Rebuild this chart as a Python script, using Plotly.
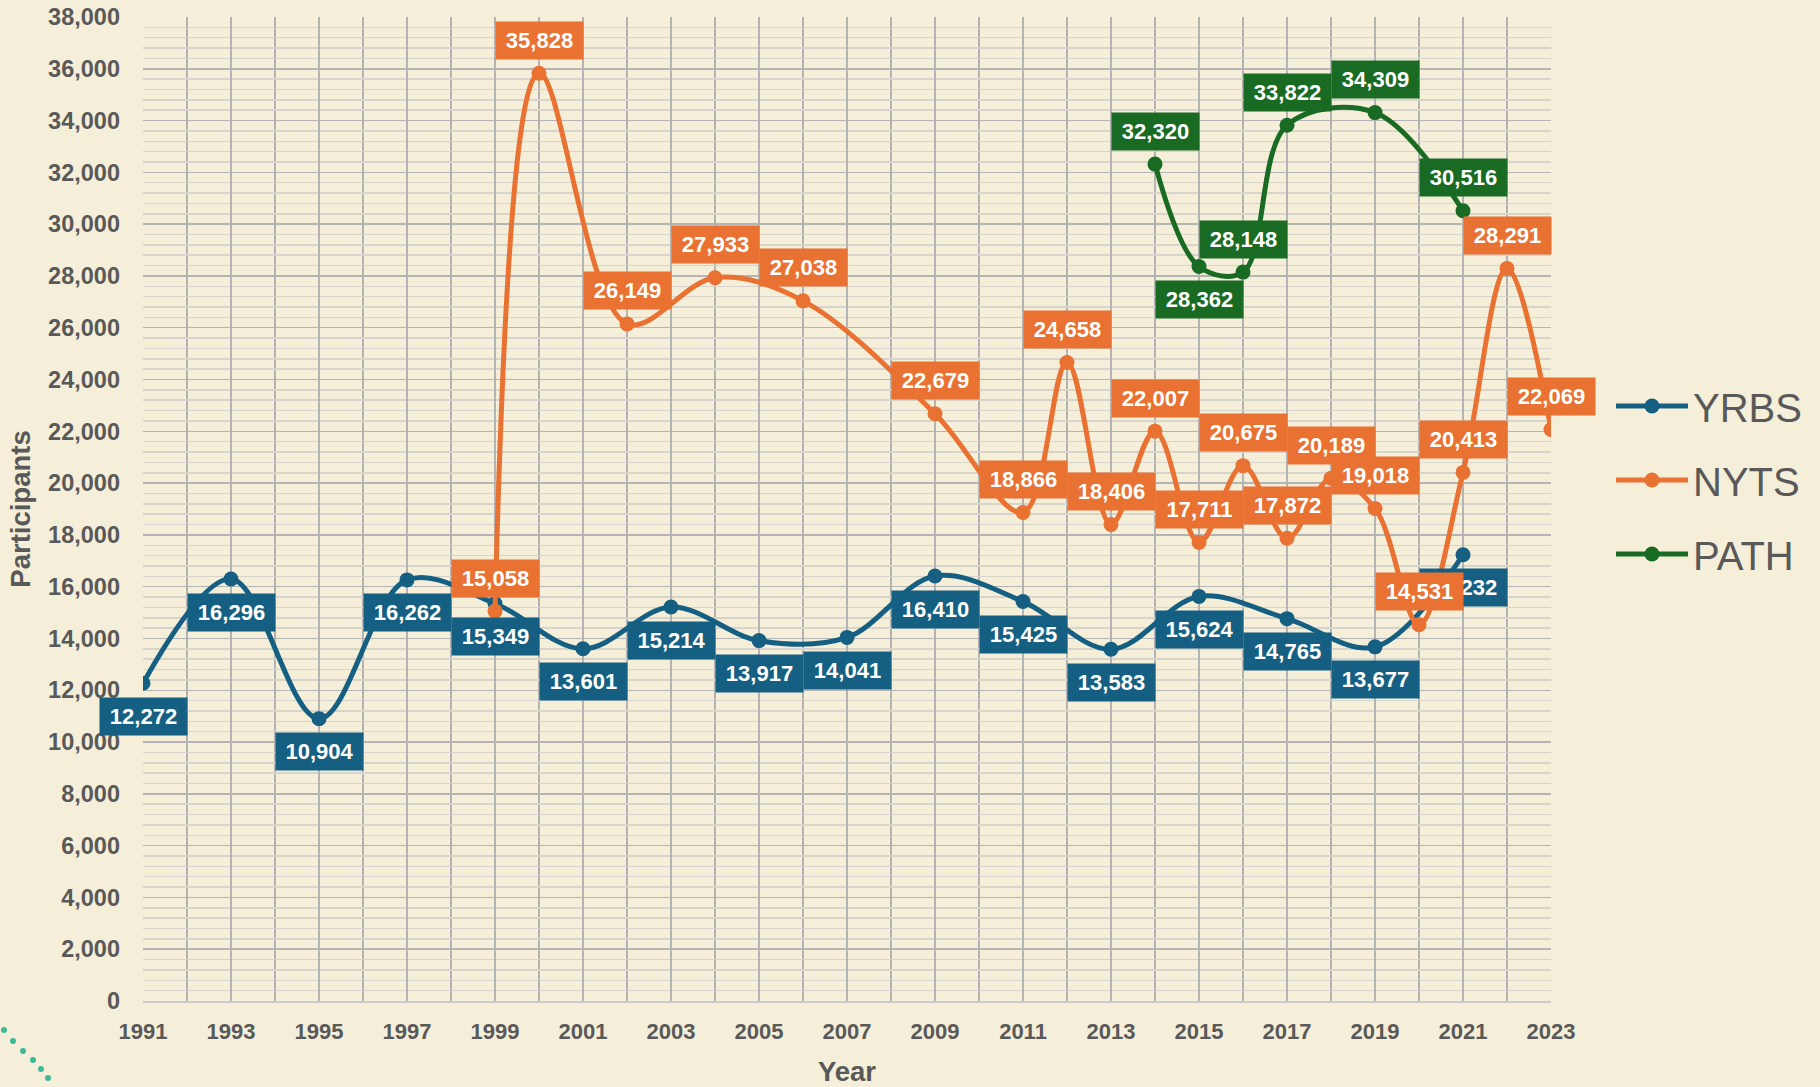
import plotly.graph_objects as go

# ---------------- data ----------------
yrbs_years = [1991, 1993, 1995, 1997, 1999, 2001, 2003, 2005, 2007, 2009, 2011, 2013, 2015, 2017, 2019, 2021]
yrbs_vals = [12272, 16296, 10904, 16262, 15349, 13601, 15214, 13917, 14041, 16410, 15425, 13583, 15624, 14765, 13677, 17232]

nyts_years = [1999, 2000, 2002, 2004, 2006, 2009, 2011, 2012, 2013, 2014, 2015, 2016, 2017, 2018, 2019, 2020, 2021, 2022, 2023]
nyts_vals = [15058, 35828, 26149, 27933, 27038, 22679, 18866, 24658, 18406, 22007, 17711, 20675, 17872, 20189, 19018, 14531, 20413, 28291, 22069]

path_years = [2014, 2015, 2016, 2017, 2019, 2021]
path_vals = [32320, 28362, 28148, 33822, 34309, 30516]

x_ticks = list(range(1991, 2024, 2))

# ---------------- style ----------------
BG = "#F5EFDA"
GRID = "#B4B4B4"
MINOR = "#D7D4CB"
TXT = "#595959"
FONT = "Liberation Sans"
COLORS = {"YRBS": "#156082", "NYTS": "#E97132", "PATH": "#196B24"}

# label placement: +1 above, -1 below
series = [
    ("YRBS", yrbs_years, yrbs_vals, lambda yr: -1),
    ("NYTS", nyts_years, nyts_vals, lambda yr: 1),
    ("PATH", path_years, path_vals, lambda yr: -1 if yr == 2015 else 1),
]

L, R, T, B = 143, 1551, 17, 1001
W, H = 1820, 1087

fig = go.Figure()
annotations = []
for name, xs, ys, side in series:
    c = COLORS[name]
    fig.add_trace(go.Scatter(
        x=xs, y=ys, name=name, mode="lines+markers", legendgroup=name,
        line=dict(color=c, width=5, shape="spline", smoothing=1),
        marker=dict(size=15, color=c),
    ))
    for xv, yv in zip(xs, ys):
        annotations.append(dict(
            x=xv, y=yv, xref="x", yref="y", text=f"{yv:,}", showarrow=False,
            xanchor="center", yanchor="middle", yshift=33 * side(xv),
            font=dict(family=FONT, size=22, color="white", weight="bold"),
            bgcolor=c, width=79, height=29, borderpad=4,
        ))

def px_to_paper(px, py):
    return (px - L) / (R - L), (B - py) / (B - T)

shapes = []
for (dx, dy) in [(4, 1030), (13, 1041), (23, 1051), (33, 1060), (41, 1069), (48, 1078)]:
    xp, yp = px_to_paper(dx, dy)
    shapes.append(dict(type="circle", xref="paper", yref="paper", xsizemode="pixel", ysizemode="pixel",
                       xanchor=xp, yanchor=yp, x0=-3, x1=3, y0=-3, y1=3,
                       fillcolor="#3FB89A", line=dict(width=0), layer="below"))

fig.update_layout(
    width=W, height=H,
    paper_bgcolor=BG, plot_bgcolor=BG,
    margin=dict(l=L, r=W - R, t=T, b=H - B, autoexpand=False),
    annotations=annotations,
    shapes=shapes,
    showlegend=True,
    legend=dict(
        x=px_to_paper(1611, 0)[0], xanchor="left",
        y=px_to_paper(0, 480)[1], yanchor="middle",
        font=dict(family=FONT, size=40, color=TXT),
        bgcolor="rgba(0,0,0,0)", tracegroupgap=19, itemwidth=72,
        traceorder="grouped",
    ),
    xaxis=dict(
        range=[1991, 2023], tickmode="array", tickvals=x_ticks, ticktext=[str(v) for v in x_ticks],
        showgrid=True, gridcolor=GRID, gridwidth=1.5,
        minor=dict(dtick=1, tick0=1991, showgrid=True, gridcolor=GRID, gridwidth=1.5),
        tickfont=dict(family=FONT, size=22, color=TXT, weight="bold"),
        ticks="", ticklabelstandoff=10, zeroline=False,
        showline=True, linecolor="#CBCBCB", linewidth=1.5,
        title=dict(text="Year", font=dict(family=FONT, size=27.5, color=TXT, weight="bold"), standoff=19),
    ),
    yaxis=dict(
        range=[0, 38000], tickmode="linear", tick0=0, dtick=2000, tickformat=",",
        showgrid=True, gridcolor=GRID, gridwidth=1.5,
        minor=dict(dtick=400, showgrid=True, gridcolor=MINOR, gridwidth=1.5),
        tickfont=dict(family=FONT, size=23.5, color=TXT, weight="bold"),
        ticks="", ticklabelstandoff=22, zeroline=False, showline=False,
        title=dict(text="Participants", font=dict(family=FONT, size=27.5, color=TXT, weight="bold"), standoff=9),
    ),
    hovermode=False,
)

fig.write_html(
    "out.html",
    config={"displayModeBar": False, "staticPlot": True},
    post_script="document.body.style.margin='0';document.body.style.background='" + BG + "';",
)
